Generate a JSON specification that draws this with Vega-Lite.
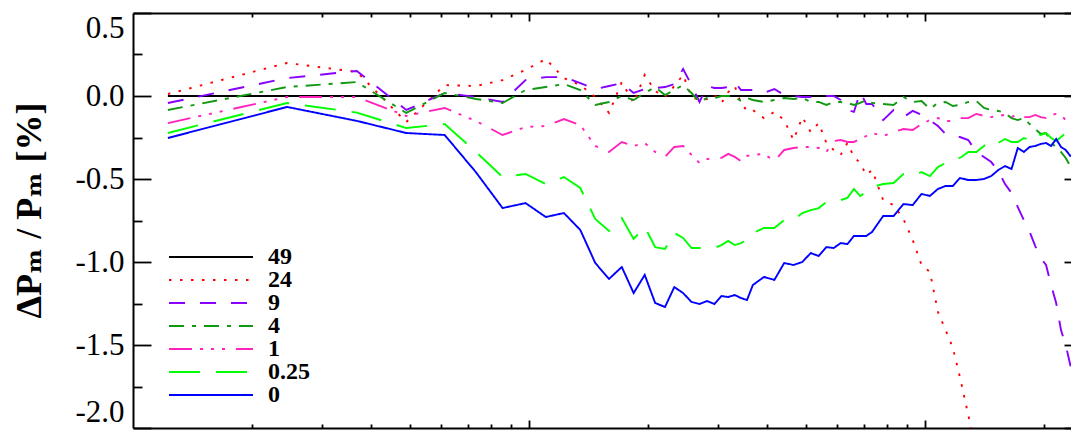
{
  "$schema": "https://vega.github.io/schema/vega-lite/v6.json",
  "width": 938,
  "height": 415,
  "autosize": {"type": "none"},
  "padding": {"left": 133, "top": 13, "right": 0, "bottom": 3},
  "background": "white",
  "config": {
    "view": {"stroke": null},
    "axis": {"grid": false, "domainColor": "black", "domainWidth": 2, "tickColor": "black", "tickWidth": 1.8, "labelColor": "black", "titleColor": "black"}
  },
  "datasets": {
    "zero": [
      {"k": 0.01225, "v": 0},
      {"k": 2.5, "v": 0}
    ],
    "series": [
      {"s":"24","k":0.01225,"v":0.012},{"s":"24","k":0.0245,"v":0.199},{"s":"24","k":0.03675,"v":0.145},{"s":"24","k":0.049,"v":-0.157},{"s":"24","k":0.06125,"v":0.066},{"s":"24","k":0.0735,"v":0.06},{"s":"24","k":0.08575,"v":0.096},{"s":"24","k":0.098,"v":0.157},{"s":"24","k":0.11025,"v":0.223},{"s":"24","k":0.1225,"v":0.108},{"s":"24","k":0.13475,"v":0.066},{"s":"24","k":0.147,"v":-0.006},{"s":"24","k":0.15925,"v":-0.102},{"s":"24","k":0.1715,"v":0.084},{"s":"24","k":0.18375,"v":-0.042},{"s":"24","k":0.196,"v":0.127},{"s":"24","k":0.20825,"v":0.03},{"s":"24","k":0.2205,"v":-0.006},{"s":"24","k":0.23275,"v":0.06},{"s":"24","k":0.245,"v":0.127},{"s":"24","k":0.25725,"v":-0.006},{"s":"24","k":0.2695,"v":-0.024},{"s":"24","k":0.28175,"v":-0.018},{"s":"24","k":0.294,"v":0.006},{"s":"24","k":0.30625,"v":-0.042},{"s":"24","k":0.3185,"v":0.024},{"s":"24","k":0.33075,"v":0.06},{"s":"24","k":0.343,"v":-0.042},{"s":"24","k":0.35525,"v":-0.09},{"s":"24","k":0.3675,"v":-0.084},{"s":"24","k":0.392,"v":-0.133},{"s":"24","k":0.4165,"v":-0.096},{"s":"24","k":0.441,"v":-0.145},{"s":"24","k":0.4655,"v":-0.265},{"s":"24","k":0.49,"v":-0.127},{"s":"24","k":0.5145,"v":-0.217},{"s":"24","k":0.539,"v":-0.163},{"s":"24","k":0.5635,"v":-0.283},{"s":"24","k":0.588,"v":-0.325},{"s":"24","k":0.6125,"v":-0.355},{"s":"24","k":0.637,"v":-0.283},{"s":"24","k":0.6615,"v":-0.367},{"s":"24","k":0.686,"v":-0.404},{"s":"24","k":0.7105,"v":-0.476},{"s":"24","k":0.735,"v":-0.446},{"s":"24","k":0.784,"v":-0.627},{"s":"24","k":0.833,"v":-0.657},{"s":"24","k":0.882,"v":-0.741},{"s":"24","k":0.931,"v":-0.867},{"s":"24","k":0.98,"v":-1.018},{"s":"24","k":1.029,"v":-1.06},{"s":"24","k":1.078,"v":-1.3},{"s":"24","k":1.127,"v":-1.41},{"s":"24","k":1.176,"v":-1.518},{"s":"24","k":1.225,"v":-1.693},{"s":"24","k":1.28625,"v":-1.922},{"s":"24","k":1.3475,"v":-2.15},{"s":"24","k":1.40875,"v":-2.35},

      {"s":"9","k":0.01225,"v":-0.042},{"s":"9","k":0.0245,"v":0.108},{"s":"9","k":0.03675,"v":0.151},{"s":"9","k":0.049,"v":-0.084},{"s":"9","k":0.06125,"v":0.018},{"s":"9","k":0.0735,"v":-0.006},{"s":"9","k":0.08575,"v":-0.036},{"s":"9","k":0.098,"v":0.096},{"s":"9","k":0.11025,"v":0.114},{"s":"9","k":0.1225,"v":0.114},{"s":"9","k":0.13475,"v":0.078},{"s":"9","k":0.147,"v":0.042},{"s":"9","k":0.15925,"v":0.06},{"s":"9","k":0.1715,"v":0.078},{"s":"9","k":0.18375,"v":0.018},{"s":"9","k":0.196,"v":0.042},{"s":"9","k":0.20825,"v":0.048},{"s":"9","k":0.2205,"v":0.054},{"s":"9","k":0.23275,"v":0.072},{"s":"9","k":0.245,"v":0.163},{"s":"9","k":0.25725,"v":0.066},{"s":"9","k":0.2695,"v":-0.036},{"s":"9","k":0.28175,"v":0.06},{"s":"9","k":0.294,"v":0.048},{"s":"9","k":0.30625,"v":0.048},{"s":"9","k":0.3185,"v":0.054},{"s":"9","k":0.33075,"v":0.084},{"s":"9","k":0.343,"v":0.036},{"s":"9","k":0.35525,"v":0.036},{"s":"9","k":0.3675,"v":0.036},{"s":"9","k":0.392,"v":0.018},{"s":"9","k":0.4165,"v":0.042},{"s":"9","k":0.441,"v":0.006},{"s":"9","k":0.4655,"v":0.0},{"s":"9","k":0.49,"v":-0.006},{"s":"9","k":0.5145,"v":-0.006},{"s":"9","k":0.539,"v":-0.012},{"s":"9","k":0.5635,"v":0.0},{"s":"9","k":0.588,"v":0.0},{"s":"9","k":0.6125,"v":-0.024},{"s":"9","k":0.637,"v":-0.084},{"s":"9","k":0.6615,"v":-0.096},{"s":"9","k":0.686,"v":0.024},{"s":"9","k":0.7105,"v":-0.048},{"s":"9","k":0.735,"v":-0.048},{"s":"9","k":0.784,"v":-0.145},{"s":"9","k":0.833,"v":-0.084},{"s":"9","k":0.882,"v":-0.127},{"s":"9","k":0.931,"v":-0.09},{"s":"9","k":0.98,"v":-0.114},{"s":"9","k":1.029,"v":-0.145},{"s":"9","k":1.078,"v":-0.181},{"s":"9","k":1.127,"v":-0.229},{"s":"9","k":1.176,"v":-0.241},{"s":"9","k":1.225,"v":-0.247},{"s":"9","k":1.28625,"v":-0.265},{"s":"9","k":1.3475,"v":-0.337},{"s":"9","k":1.40875,"v":-0.367},{"s":"9","k":1.47,"v":-0.398},{"s":"9","k":1.53125,"v":-0.452},{"s":"9","k":1.5925,"v":-0.53},{"s":"9","k":1.65375,"v":-0.584},{"s":"9","k":1.715,"v":-0.669},{"s":"9","k":1.77625,"v":-0.747},{"s":"9","k":1.8375,"v":-0.819},{"s":"9","k":1.89875,"v":-0.904},{"s":"9","k":1.96,"v":-0.976},{"s":"9","k":2.02125,"v":-1.018},{"s":"9","k":2.0825,"v":-1.139},{"s":"9","k":2.14375,"v":-1.247},{"s":"9","k":2.205,"v":-1.41},{"s":"9","k":2.26625,"v":-1.5},{"s":"9","k":2.3275,"v":-1.62},{"s":"9","k":2.38875,"v":-1.75},{"s":"9","k":2.45,"v":-1.9},

      {"s":"4","k":0.01225,"v":-0.084},{"s":"4","k":0.0245,"v":0.054},{"s":"4","k":0.03675,"v":0.084},{"s":"4","k":0.049,"v":-0.102},{"s":"4","k":0.06125,"v":0.018},{"s":"4","k":0.0735,"v":-0.018},{"s":"4","k":0.08575,"v":-0.042},{"s":"4","k":0.098,"v":0.036},{"s":"4","k":0.11025,"v":0.054},{"s":"4","k":0.1225,"v":0.072},{"s":"4","k":0.13475,"v":0.036},{"s":"4","k":0.147,"v":-0.054},{"s":"4","k":0.15925,"v":-0.036},{"s":"4","k":0.1715,"v":0.0},{"s":"4","k":0.18375,"v":-0.024},{"s":"4","k":0.196,"v":0.018},{"s":"4","k":0.20825,"v":0.054},{"s":"4","k":0.2205,"v":0.006},{"s":"4","k":0.23275,"v":0.036},{"s":"4","k":0.245,"v":0.066},{"s":"4","k":0.25725,"v":0.018},{"s":"4","k":0.2695,"v":-0.036},{"s":"4","k":0.28175,"v":-0.012},{"s":"4","k":0.294,"v":-0.012},{"s":"4","k":0.30625,"v":0.0},{"s":"4","k":0.3185,"v":0.0},{"s":"4","k":0.33075,"v":-0.006},{"s":"4","k":0.343,"v":-0.03},{"s":"4","k":0.35525,"v":-0.012},{"s":"4","k":0.3675,"v":-0.024},{"s":"4","k":0.392,"v":-0.036},{"s":"4","k":0.4165,"v":-0.024},{"s":"4","k":0.441,"v":-0.012},{"s":"4","k":0.4655,"v":-0.018},{"s":"4","k":0.49,"v":-0.012},{"s":"4","k":0.5145,"v":-0.036},{"s":"4","k":0.539,"v":-0.036},{"s":"4","k":0.5635,"v":-0.054},{"s":"4","k":0.588,"v":-0.036},{"s":"4","k":0.6125,"v":-0.036},{"s":"4","k":0.637,"v":-0.042},{"s":"4","k":0.6615,"v":-0.054},{"s":"4","k":0.686,"v":-0.042},{"s":"4","k":0.7105,"v":-0.024},{"s":"4","k":0.735,"v":-0.042},{"s":"4","k":0.784,"v":-0.048},{"s":"4","k":0.833,"v":-0.054},{"s":"4","k":0.882,"v":-0.006},{"s":"4","k":0.931,"v":-0.036},{"s":"4","k":0.98,"v":-0.03},{"s":"4","k":1.029,"v":-0.078},{"s":"4","k":1.078,"v":-0.042},{"s":"4","k":1.127,"v":-0.036},{"s":"4","k":1.176,"v":-0.06},{"s":"4","k":1.225,"v":-0.054},{"s":"4","k":1.28625,"v":-0.036},{"s":"4","k":1.3475,"v":-0.03},{"s":"4","k":1.40875,"v":-0.072},{"s":"4","k":1.47,"v":-0.084},{"s":"4","k":1.53125,"v":-0.09},{"s":"4","k":1.5925,"v":-0.102},{"s":"4","k":1.65375,"v":-0.133},{"s":"4","k":1.715,"v":-0.145},{"s":"4","k":1.77625,"v":-0.133},{"s":"4","k":1.8375,"v":-0.169},{"s":"4","k":1.89875,"v":-0.199},{"s":"4","k":1.96,"v":-0.229},{"s":"4","k":2.02125,"v":-0.223},{"s":"4","k":2.0825,"v":-0.277},{"s":"4","k":2.14375,"v":-0.313},{"s":"4","k":2.205,"v":-0.337},{"s":"4","k":2.26625,"v":-0.373},{"s":"4","k":2.3275,"v":-0.422},{"s":"4","k":2.38875,"v":-0.45},{"s":"4","k":2.45,"v":-0.48},

      {"s":"1","k":0.01225,"v":-0.163},{"s":"1","k":0.0245,"v":-0.006},{"s":"1","k":0.03675,"v":-0.006},{"s":"1","k":0.049,"v":-0.12},{"s":"1","k":0.06125,"v":-0.072},{"s":"1","k":0.0735,"v":-0.151},{"s":"1","k":0.08575,"v":-0.235},{"s":"1","k":0.098,"v":-0.187},{"s":"1","k":0.11025,"v":-0.181},{"s":"1","k":0.1225,"v":-0.139},{"s":"1","k":0.13475,"v":-0.175},{"s":"1","k":0.147,"v":-0.301},{"s":"1","k":0.15925,"v":-0.337},{"s":"1","k":0.1715,"v":-0.277},{"s":"1","k":0.18375,"v":-0.301},{"s":"1","k":0.196,"v":-0.283},{"s":"1","k":0.20825,"v":-0.337},{"s":"1","k":0.2205,"v":-0.367},{"s":"1","k":0.23275,"v":-0.307},{"s":"1","k":0.245,"v":-0.301},{"s":"1","k":0.25725,"v":-0.355},{"s":"1","k":0.2695,"v":-0.404},{"s":"1","k":0.28175,"v":-0.38},{"s":"1","k":0.294,"v":-0.373},{"s":"1","k":0.30625,"v":-0.373},{"s":"1","k":0.3185,"v":-0.349},{"s":"1","k":0.33075,"v":-0.367},{"s":"1","k":0.343,"v":-0.392},{"s":"1","k":0.35525,"v":-0.361},{"s":"1","k":0.3675,"v":-0.355},{"s":"1","k":0.392,"v":-0.349},{"s":"1","k":0.4165,"v":-0.392},{"s":"1","k":0.441,"v":-0.325},{"s":"1","k":0.4655,"v":-0.313},{"s":"1","k":0.49,"v":-0.307},{"s":"1","k":0.5145,"v":-0.307},{"s":"1","k":0.539,"v":-0.313},{"s":"1","k":0.5635,"v":-0.337},{"s":"1","k":0.588,"v":-0.271},{"s":"1","k":0.6125,"v":-0.265},{"s":"1","k":0.637,"v":-0.277},{"s":"1","k":0.6615,"v":-0.277},{"s":"1","k":0.686,"v":-0.259},{"s":"1","k":0.7105,"v":-0.241},{"s":"1","k":0.735,"v":-0.223},{"s":"1","k":0.784,"v":-0.241},{"s":"1","k":0.833,"v":-0.217},{"s":"1","k":0.882,"v":-0.199},{"s":"1","k":0.931,"v":-0.205},{"s":"1","k":0.98,"v":-0.169},{"s":"1","k":1.029,"v":-0.145},{"s":"1","k":1.078,"v":-0.133},{"s":"1","k":1.127,"v":-0.151},{"s":"1","k":1.176,"v":-0.151},{"s":"1","k":1.225,"v":-0.133},{"s":"1","k":1.28625,"v":-0.133},{"s":"1","k":1.3475,"v":-0.108},{"s":"1","k":1.40875,"v":-0.12},{"s":"1","k":1.47,"v":-0.127},{"s":"1","k":1.53125,"v":-0.12},{"s":"1","k":1.5925,"v":-0.114},{"s":"1","k":1.65375,"v":-0.127},{"s":"1","k":1.715,"v":-0.108},{"s":"1","k":1.77625,"v":-0.127},{"s":"1","k":1.8375,"v":-0.127},{"s":"1","k":1.89875,"v":-0.114},{"s":"1","k":1.96,"v":-0.127},{"s":"1","k":2.02125,"v":-0.133},{"s":"1","k":2.0825,"v":-0.114},{"s":"1","k":2.14375,"v":-0.108},{"s":"1","k":2.205,"v":-0.114},{"s":"1","k":2.26625,"v":-0.145},{"s":"1","k":2.3275,"v":-0.163},{"s":"1","k":2.38875,"v":-0.16},{"s":"1","k":2.45,"v":-0.15},

      {"s":"0.25","k":0.01225,"v":-0.223},{"s":"0.25","k":0.0245,"v":-0.042},{"s":"0.25","k":0.03675,"v":-0.1},{"s":"0.25","k":0.049,"v":-0.193},{"s":"0.25","k":0.06125,"v":-0.169},{"s":"0.25","k":0.0735,"v":-0.337},{"s":"0.25","k":0.08575,"v":-0.488},{"s":"0.25","k":0.098,"v":-0.47},{"s":"0.25","k":0.11025,"v":-0.53},{"s":"0.25","k":0.1225,"v":-0.488},{"s":"0.25","k":0.13475,"v":-0.554},{"s":"0.25","k":0.147,"v":-0.741},{"s":"0.25","k":0.15925,"v":-0.813},{"s":"0.25","k":0.1715,"v":-0.735},{"s":"0.25","k":0.18375,"v":-0.861},{"s":"0.25","k":0.196,"v":-0.789},{"s":"0.25","k":0.20825,"v":-0.91},{"s":"0.25","k":0.2205,"v":-0.922},{"s":"0.25","k":0.23275,"v":-0.825},{"s":"0.25","k":0.245,"v":-0.855},{"s":"0.25","k":0.25725,"v":-0.916},{"s":"0.25","k":0.2695,"v":-0.916},{"s":"0.25","k":0.28175,"v":-0.916},{"s":"0.25","k":0.294,"v":-0.916},{"s":"0.25","k":0.30625,"v":-0.898},{"s":"0.25","k":0.3185,"v":-0.873},{"s":"0.25","k":0.33075,"v":-0.898},{"s":"0.25","k":0.343,"v":-0.886},{"s":"0.25","k":0.35525,"v":-0.867},{"s":"0.25","k":0.3675,"v":-0.825},{"s":"0.25","k":0.392,"v":-0.795},{"s":"0.25","k":0.4165,"v":-0.795},{"s":"0.25","k":0.441,"v":-0.747},{"s":"0.25","k":0.4655,"v":-0.747},{"s":"0.25","k":0.49,"v":-0.705},{"s":"0.25","k":0.5145,"v":-0.687},{"s":"0.25","k":0.539,"v":-0.675},{"s":"0.25","k":0.5635,"v":-0.639},{"s":"0.25","k":0.588,"v":-0.639},{"s":"0.25","k":0.6125,"v":-0.627},{"s":"0.25","k":0.637,"v":-0.614},{"s":"0.25","k":0.6615,"v":-0.56},{"s":"0.25","k":0.686,"v":-0.602},{"s":"0.25","k":0.7105,"v":-0.578},{"s":"0.25","k":0.735,"v":-0.548},{"s":"0.25","k":0.784,"v":-0.53},{"s":"0.25","k":0.833,"v":-0.524},{"s":"0.25","k":0.882,"v":-0.47},{"s":"0.25","k":0.931,"v":-0.482},{"s":"0.25","k":0.98,"v":-0.458},{"s":"0.25","k":1.029,"v":-0.482},{"s":"0.25","k":1.078,"v":-0.428},{"s":"0.25","k":1.127,"v":-0.404},{"s":"0.25","k":1.176,"v":-0.373},{"s":"0.25","k":1.225,"v":-0.373},{"s":"0.25","k":1.28625,"v":-0.337},{"s":"0.25","k":1.3475,"v":-0.337},{"s":"0.25","k":1.40875,"v":-0.301},{"s":"0.25","k":1.47,"v":-0.265},{"s":"0.25","k":1.53125,"v":-0.283},{"s":"0.25","k":1.5925,"v":-0.259},{"s":"0.25","k":1.65375,"v":-0.277},{"s":"0.25","k":1.715,"v":-0.277},{"s":"0.25","k":1.77625,"v":-0.253},{"s":"0.25","k":1.8375,"v":-0.265},{"s":"0.25","k":1.89875,"v":-0.223},{"s":"0.25","k":1.96,"v":-0.235},{"s":"0.25","k":2.02125,"v":-0.223},{"s":"0.25","k":2.0825,"v":-0.253},{"s":"0.25","k":2.14375,"v":-0.271},{"s":"0.25","k":2.205,"v":-0.247},{"s":"0.25","k":2.26625,"v":-0.223},{"s":"0.25","k":2.3275,"v":-0.205},{"s":"0.25","k":2.38875,"v":-0.21},{"s":"0.25","k":2.45,"v":-0.2},

      {"s":"0","k":0.01225,"v":-0.253},{"s":"0","k":0.0245,"v":-0.066},{"s":"0","k":0.03675,"v":-0.15},{"s":"0","k":0.049,"v":-0.223},{"s":"0","k":0.06125,"v":-0.235},{"s":"0","k":0.0735,"v":-0.46},{"s":"0","k":0.08575,"v":-0.675},{"s":"0","k":0.098,"v":-0.645},{"s":"0","k":0.11025,"v":-0.729},{"s":"0","k":0.1225,"v":-0.705},{"s":"0","k":0.13475,"v":-0.807},{"s":"0","k":0.147,"v":-1.006},{"s":"0","k":0.15925,"v":-1.102},{"s":"0","k":0.1715,"v":-1.03},{"s":"0","k":0.18375,"v":-1.187},{"s":"0","k":0.196,"v":-1.078},{"s":"0","k":0.20825,"v":-1.247},{"s":"0","k":0.2205,"v":-1.271},{"s":"0","k":0.23275,"v":-1.151},{"s":"0","k":0.245,"v":-1.187},{"s":"0","k":0.25725,"v":-1.241},{"s":"0","k":0.2695,"v":-1.253},{"s":"0","k":0.28175,"v":-1.235},{"s":"0","k":0.294,"v":-1.253},{"s":"0","k":0.30625,"v":-1.205},{"s":"0","k":0.3185,"v":-1.211},{"s":"0","k":0.33075,"v":-1.199},{"s":"0","k":0.343,"v":-1.217},{"s":"0","k":0.35525,"v":-1.229},{"s":"0","k":0.3675,"v":-1.139},{"s":"0","k":0.392,"v":-1.09},{"s":"0","k":0.4165,"v":-1.108},{"s":"0","k":0.441,"v":-1.006},{"s":"0","k":0.4655,"v":-1.018},{"s":"0","k":0.49,"v":-1.0},{"s":"0","k":0.5145,"v":-0.946},{"s":"0","k":0.539,"v":-0.964},{"s":"0","k":0.5635,"v":-0.91},{"s":"0","k":0.588,"v":-0.916},{"s":"0","k":0.6125,"v":-0.886},{"s":"0","k":0.637,"v":-0.892},{"s":"0","k":0.6615,"v":-0.843},{"s":"0","k":0.686,"v":-0.843},{"s":"0","k":0.7105,"v":-0.843},{"s":"0","k":0.735,"v":-0.819},{"s":"0","k":0.784,"v":-0.723},{"s":"0","k":0.833,"v":-0.723},{"s":"0","k":0.882,"v":-0.651},{"s":"0","k":0.931,"v":-0.657},{"s":"0","k":0.98,"v":-0.59},{"s":"0","k":1.029,"v":-0.602},{"s":"0","k":1.078,"v":-0.56},{"s":"0","k":1.127,"v":-0.542},{"s":"0","k":1.176,"v":-0.542},{"s":"0","k":1.225,"v":-0.494},{"s":"0","k":1.28625,"v":-0.506},{"s":"0","k":1.3475,"v":-0.506},{"s":"0","k":1.40875,"v":-0.5},{"s":"0","k":1.47,"v":-0.482},{"s":"0","k":1.53125,"v":-0.446},{"s":"0","k":1.5925,"v":-0.422},{"s":"0","k":1.65375,"v":-0.44},{"s":"0","k":1.715,"v":-0.313},{"s":"0","k":1.77625,"v":-0.337},{"s":"0","k":1.8375,"v":-0.307},{"s":"0","k":1.89875,"v":-0.301},{"s":"0","k":1.96,"v":-0.289},{"s":"0","k":2.02125,"v":-0.283},{"s":"0","k":2.0825,"v":-0.301},{"s":"0","k":2.14375,"v":-0.259},{"s":"0","k":2.205,"v":-0.307},{"s":"0","k":2.26625,"v":-0.325},{"s":"0","k":2.3275,"v":-0.361},{"s":"0","k":2.38875,"v":-0.35},{"s":"0","k":2.45,"v":-0.38}
    ]
  },
  "layer": [
    {
      "data": {"name": "zero"},
      "mark": {"type": "line", "color": "black", "strokeWidth": 2, "clip": true},
      "encoding": {
        "x": {
          "field": "k", "type": "quantitative",
          "scale": {"type": "log", "domain": [0.01, 2.337], "nice": false},
          "axis": {
            "orient": "top", "title": null, "labels": false,
            "values": [0.02,0.03,0.04,0.05,0.06,0.07,0.08,0.09,0.1,0.2,0.3,0.4,0.5,0.6,0.7,0.8,0.9,1,2],
            "tickSize": {"condition": {"test": "datum.value == 0.1 || datum.value == 1", "value": -8}, "value": -4}
          }
        },
        "y": {
          "field": "v", "type": "quantitative",
          "scale": {"domain": [-2, 0.5], "nice": false, "zero": false},
          "axis": {
            "orient": "right", "title": null, "labels": false, "domain": false,
            "values": [-2, -1.5, -1, -0.5, 0, 0.5],
            "tickSize": -7
          }
        }
      }
    },
    {
      "data": {"name": "series"},
      "mark": {"type": "line", "strokeWidth": 1.9, "clip": true},
      "encoding": {
        "x": {
          "field": "k", "type": "quantitative",
          "axis": {
            "orient": "bottom", "title": null, "labels": false,
            "values": [0.02,0.03,0.04,0.05,0.06,0.07,0.08,0.09,0.1,0.2,0.3,0.4,0.5,0.6,0.7,0.8,0.9,1,2],
            "tickSize": {"condition": {"test": "datum.value == 0.1 || datum.value == 1", "value": -8}, "value": -4}
          }
        },
        "y": {
          "field": "v", "type": "quantitative",
          "axis": {
            "orient": "left",
            "title": "ΔPₘ / Pₘ  [%]",
            "titleFont": "Liberation Serif, DejaVu Serif, serif",
            "titleFontSize": 36,
            "titleFontWeight": "bold",
            "titleX": -104,
            "titleY": 197,
            "titleAngle": -90,
            "titleAlign": "center",
            "titleBaseline": "middle",
            "values": [-2,-1.75,-1.5,-1.25,-1,-0.75,-0.5,-0.25,0,0.25,0.5],
            "labelExpr": "abs(datum.value*2 - round(datum.value*2)) < 0.01 ? replace(format(datum.value, '.1f'), '\u2212', '-') : ''",
            "labelFont": "Liberation Serif",
            "labelFontSize": 31,
            "labelPadding": 27,
            "labelFlush": true,
            "tickSize": {"condition": {"test": "abs(datum.value*2 - round(datum.value*2)) < 0.01", "value": -18}, "value": -9}
          }
        },
        "color": {
          "field": "s", "type": "nominal",
          "scale": {
            "domain": ["49","24","9","4","1","0.25","0"],
            "range": ["#000000","#ff0000","#8800ff","#119911","#ff22bb","#00ff00","#0000ff"]
          },
          "legend": {
            "title": null,
            "orient": "none",
            "legendX": 35,
            "legendY": 233,
            "padding": 0,
            "symbolType": "stroke",
            "symbolSize": 7056,
            "symbolStrokeWidth": 2,
            "clipHeight": 22,
            "labelFont": "Liberation Serif",
            "labelFontSize": 24,
            "labelFontWeight": "bold",
            "labelColor": "black",
            "labelOffset": 14,
            "rowPadding": -2
          }
        },
        "strokeDash": {
          "field": "s", "type": "nominal",
          "scale": {
            "domain": ["49","24","9","4","1","0.25","0"],
            "range": [[1,0],[2.5,8.5],[16,15],[15,8,4,8],[23,8,3,8,3,8,3,11],[31,16],[1,0]]
          },
          "legend": {"title": null}
        }
      }
    }
  ],
  "resolve": {"axis": {"x": "independent", "y": "independent"}}
}
